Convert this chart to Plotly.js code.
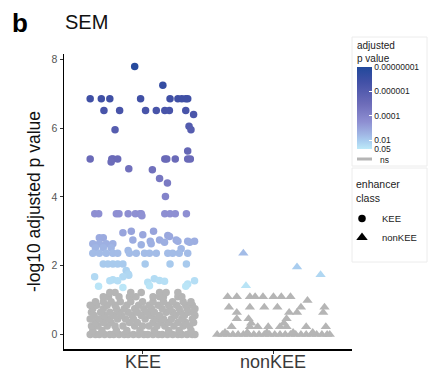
<!DOCTYPE html>
<html>
<head>
<meta charset="utf-8">
<script src="https://cdn.plot.ly/plotly-3.0.1.min.js"></script>
<style>html,body{margin:0;padding:0;background:#fff}#chart{width:428px;height:371px}</style>
</head>
<body>
<div id="chart"></div>
<script>
// ---- data ----
const categories = ['KEE', 'nonKEE'];
const colorTickValues = [8, 6, 4, 2, 1.3];            // -log10 adjusted p
const colorTickLabels = ['0.00000001', '0.000001', '0.0001', '0.01', '0.05'];

// KEE, not significant (grey): value levels and horizontal jitter of points at each level
const keeNsLevels = [0.00, 0.12, 0.25, 0.35, 0.45, 0.55, 0.65, 0.75, 0.85, 0.95, 1.10, 1.22];
const keeNsJitter = [
  [-0.40,-0.36,-0.33,-0.29,-0.25,-0.22,-0.18,-0.14,-0.11,-0.07,-0.03,0.01,0.04,0.08,0.12,0.15,0.19,0.23,0.27,0.30,0.34,0.38,0.40],
  [-0.38,-0.31,-0.20,-0.12,-0.02,0.09,0.20,0.28,0.37],
  [-0.39,-0.34,-0.27,-0.21,-0.15,-0.06,0.00,0.05,0.11,0.17,0.24,0.31,0.36],
  [-0.36,-0.30,-0.24,-0.10,-0.04,0.08,0.14,0.20,0.27,0.33,0.39],
  [-0.40,-0.33,-0.26,-0.19,-0.13,-0.07,0.02,0.10,0.16,0.22,0.30,0.38],
  [-0.37,-0.29,-0.22,-0.16,-0.08,-0.01,0.06,0.13,0.25,0.32,0.40],
  [-0.39,-0.32,-0.25,-0.18,-0.11,-0.04,0.03,0.09,0.18,0.23,0.29,0.35,0.39],
  [-0.38,-0.30,-0.20,-0.14,-0.06,0.01,0.07,0.15,0.21,0.28,0.34,0.40],
  [-0.40,-0.35,-0.27,-0.21,-0.12,-0.03,0.05,0.12,0.20,0.26,0.33,0.38],
  [-0.36,-0.30,-0.24,-0.17,-0.09,0.00,0.08,0.16,0.23,0.31,0.37],
  [-0.30,-0.26,-0.18,-0.10,-0.05,0.08,0.13,0.16,0.27,0.30],
  [-0.25,-0.21,-0.09,-0.01,0.13,0.18,0.27]
];

// KEE, significant (coloured)
const keeSigLevels = [7.79, 7.24, 6.85, 6.51, 6.39, 6.05, 5.95, 5.33, 5.10, 5.01, 4.82, 4.79, 4.53, 4.40, 4.01,
  3.51, 3.45, 3.00, 2.96, 2.90, 2.88, 2.85, 2.81, 2.75, 2.71, 2.68, 2.64, 2.61, 2.52, 2.49, 2.44, 2.36,
  2.05, 1.86, 1.76, 1.72, 1.68, 1.62, 1.59, 1.57, 1.56, 1.55, 1.52, 1.47, 1.42, 1.40, 1.37];
const keeSigJitter = [
  [-0.06], [0.155],
  [-0.40,-0.315,-0.25,-0.015,0.21,0.27,0.30,0.33,0.345],
  [-0.295,-0.175,0.023,0.105,0.17,0.205,0.33],
  [0.39], [0.355], [-0.21,0.37], [0.345],
  [-0.40,-0.235,-0.225,-0.19,0.17,0.185,0.25,0.345,0.365],
  [-0.24], [-0.105], [0.075], [0.13], [0.19], [0.175],
  [-0.365,-0.335,-0.20,-0.18,-0.11,-0.055,-0.02,-0.01,0.17,0.21,0.25,0.335],
  [-0.005], [-0.086,0.084], [-0.15], [0.002], [0.193], [0.206], [-0.33,-0.30],
  [-0.074,0.13,0.257], [0.059,0.345,0.397,0.27], [0.168,0.36],
  [-0.38,-0.33,-0.277,-0.227,0.066], [-0.01], [-0.36,-0.30,-0.24], [0.295], [-0.11],
  [-0.38,-0.33,-0.277,-0.227,-0.19,-0.10,-0.048,0.015,0.053,0.105,0.193,0.23,0.28,0.345],
  [-0.30,-0.265,-0.227,-0.19,-0.15,0.02,0.21,0.335],
  [-0.125], [-0.11], [-0.105], [-0.366,-0.15], [0.09], [-0.227], [0.13], [-0.19,-0.25,0.397],
  [0.168], [0.04], [0.345], [0.053], [-0.336,0.33], [-0.15]
];

// nonKEE, not significant (grey)
const nonNsLevels = [0.00, 0.06, 0.23, 0.33, 0.46, 0.64, 0.79, 0.99, 1.10];
const nonNsJitter = [
  [-0.43,-0.39,-0.35,-0.31,-0.27,-0.23,-0.19,-0.15,-0.11,-0.07,-0.03,0.01,0.05,0.09,0.13,0.17,0.21,0.25,0.29,0.33,0.37,0.41,0.43],
  [-0.37,-0.20,-0.05,0.15,0.30],
  [-0.32,-0.18,-0.12,-0.04,0.05,0.10,0.25,0.40],
  [-0.17,0.08],
  [-0.28,-0.19,0.10],
  [-0.28,0.12,0.18,0.38],
  [-0.34,-0.18,-0.07,0.03,0.21,0.39],
  [0.26],
  [-0.35,-0.28,-0.18,-0.14,-0.08,0.00,0.06,0.13]
];

// nonKEE, significant (coloured)
const nonSigLevels = [2.36, 1.96, 1.74, 1.42];
const nonSigJitter = [[-0.23], [0.18], [0.36], [-0.21]];

// ---- build ----
function flatten(center, levels, jitter) {
  const x = [], y = [];
  levels.forEach((v, i) => jitter[i].forEach(j => { x.push(center + j); y.push(v); }));
  return {x, y};
}
const kNs = flatten(1, keeNsLevels, keeNsJitter);
const kSig = flatten(1, keeSigLevels, keeSigJitter);
const nNs = flatten(2, nonNsLevels, nonNsJitter);
const nSig = flatten(2, nonSigLevels, nonSigJitter);

const grey = '#b5b5b5';
const cscale = [[0,'#bde9f8'],[0.1,'#a9cdef'],[0.19,'#9fb3e3'],[0.33,'#8e8fd2'],[0.55,'#6d6cb9'],[0.82,'#4150a6'],[1,'#21499b']];
const FONT = 'Liberation Sans, Arial, sans-serif';

// plot area in px: x 64..352, y 54..349
const W = 428, H = 371, L = 64, R = 76, T = 54, B = 22;
const pw = W - L - R, ph = H - T - B;
const px = v => (v - L) / pw;
const py = v => (H - B - v) / ph;

const traces = [
  {x: kNs.x, y: kNs.y, type: 'scatter', mode: 'markers', showlegend: false, hoverinfo: 'skip',
   marker: {symbol: 'circle', size: 7.5, color: grey}},
  {x: nNs.x, y: nNs.y, type: 'scatter', mode: 'markers', showlegend: false, hoverinfo: 'skip',
   marker: {symbol: 'triangle-up', size: 9, color: grey}},
  {x: kSig.x, y: kSig.y, type: 'scatter', mode: 'markers', showlegend: false,
   marker: {symbol: 'circle', size: 7.5, color: kSig.y, colorscale: cscale, cmin: 1.3, cmax: 8,
     showscale: true,
     colorbar: {
       title: {text: 'adjusted<br>p value', side: 'top', font: {family: FONT, size: 10, color: '#222'}},
       x: px(357), xanchor: 'left', xpad: 0, y: py(149), yanchor: 'bottom', ypad: 0,
       len: 111, lenmode: 'pixels', thickness: 15, thicknessmode: 'pixels', outlinewidth: 0,
       tickmode: 'array', tickvals: colorTickValues, ticktext: colorTickLabels,
       ticks: 'inside', ticklen: 3, tickcolor: '#ffffff',
       tickfont: {family: FONT, size: 8.5, color: '#222'}
     }}},
  {x: nSig.x, y: nSig.y, type: 'scatter', mode: 'markers', showlegend: false,
   marker: {symbol: 'triangle-up', size: 9, color: nSig.y, colorscale: cscale, cmin: 1.3, cmax: 8, showscale: false}},
  {x: [null], y: [null], type: 'scatter', mode: 'markers', name: categories[0],
   marker: {symbol: 'circle', size: 7.5, color: '#000'}},
  {x: [null], y: [null], type: 'scatter', mode: 'markers', name: categories[1],
   marker: {symbol: 'triangle-up', size: 10, color: '#000'}}
];

const layout = {
  width: W, height: H,
  margin: {l: L, r: R, t: T, b: B, pad: 0, autoexpand: false},
  paper_bgcolor: '#fff', plot_bgcolor: '#fff',
  font: {family: FONT, color: '#222'},
  title: {text: 'SEM', x: 65 / W, xref: 'container', xanchor: 'left', y: 1 - 22 / H, yref: 'container', yanchor: 'middle',
    font: {family: FONT, size: 20, color: '#111'}},
  xaxis: {range: [0.4, 2.6], tickmode: 'array', tickvals: [1, 2], showticklabels: false,
    showgrid: false, zeroline: false, showline: true, linecolor: '#000', linewidth: 1.5,
    ticks: 'outside', ticklen: 3, tickcolor: '#333', tickwidth: 1, automargin: false},
  yaxis: {range: [-0.42, 8.15], tickvals: [0, 2, 4, 6, 8],
    showgrid: false, zeroline: false, showline: true, linecolor: '#000', linewidth: 1.5,
    ticks: 'outside', ticklen: 3, tickcolor: '#333', tickwidth: 1, automargin: false,
    tickfont: {family: FONT, size: 10.5, color: '#555'},
    title: {text: '-log10 adjusted p value', standoff: 6, font: {family: FONT, size: 17.5, color: '#111'}}},
  legend: {x: px(342), xanchor: 'left', y: py(204), yanchor: 'top', bgcolor: 'rgba(0,0,0,0)',
    font: {family: FONT, size: 9.5, color: '#222'}},
  shapes: [
    {type: 'rect', xref: 'paper', yref: 'paper', x0: px(352), x1: px(427), y0: py(37), y1: py(166),
     line: {color: '#ececec', width: 1}},
    {type: 'rect', xref: 'paper', yref: 'paper', x0: px(352), x1: px(427), y0: py(168), y1: py(262),
     line: {color: '#ececec', width: 1}},
    {type: 'line', xref: 'paper', yref: 'paper', x0: px(357), x1: px(372), y0: py(159), y1: py(159),
     line: {color: grey, width: 3}}
  ],
  annotations: [
    {text: '<b>b</b>', xref: 'paper', yref: 'paper', x: px(10), y: py(23), xanchor: 'left', yanchor: 'middle',
     showarrow: false, font: {family: FONT, size: 26, color: '#000'}},
    {text: 'ns', xref: 'paper', yref: 'paper', x: px(378), y: py(160), xanchor: 'left', yanchor: 'middle',
     showarrow: false, font: {family: FONT, size: 8.5, color: '#222'}},
    {text: 'enhancer<br>class', xref: 'paper', yref: 'paper', x: px(354), y: py(176), xanchor: 'left', yanchor: 'top',
     align: 'left', showarrow: false, font: {family: FONT, size: 10.5, color: '#222'}}
  ].concat(categories.map((c, i) => ({
    text: c, xref: 'x', yref: 'paper', x: i + 1, y: py(362), xanchor: 'center', yanchor: 'middle',
    showarrow: false, font: {family: FONT, size: 18, color: '#3a3a3a'}
  })))
};

Plotly.newPlot('chart', traces, layout, {displayModeBar: false, staticPlot: true});
</script>
</body>
</html>
